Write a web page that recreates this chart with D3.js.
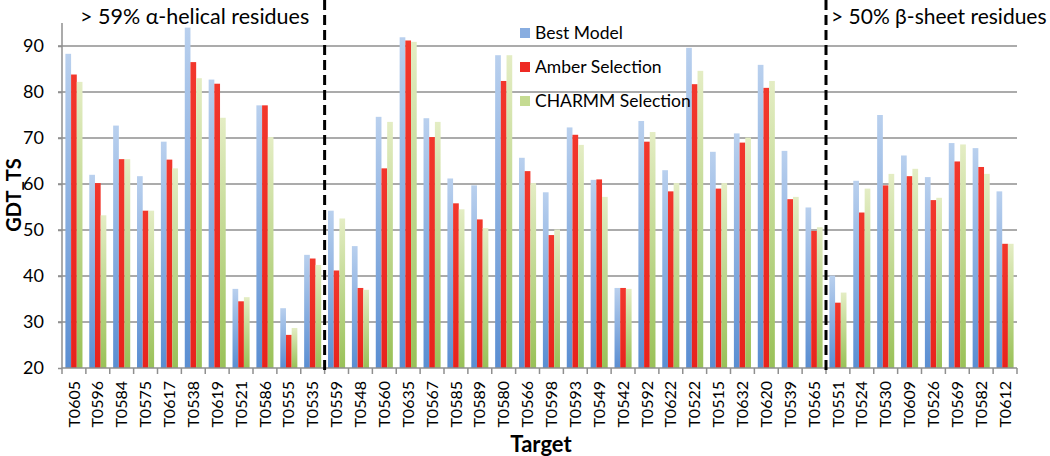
<!DOCTYPE html>
<html>
<head>
<meta charset="utf-8">
<script src="https://cdn.jsdelivr.net/npm/d3@7"></script>
<style>
  body { margin: 0; background: #fff; }
  text { font-family: Lato, "Open Sans", sans-serif; fill: #000; }
</style>
</head>
<body>
<div id="chart"></div>
<script>
var targets = ["T0605","T0596","T0584","T0575","T0617","T0538","T0619","T0521","T0586","T0555",
  "T0535","T0559","T0548","T0560","T0635","T0567","T0585","T0589","T0580","T0566",
  "T0598","T0593","T0549","T0542","T0592","T0622","T0522","T0515","T0632","T0620",
  "T0539","T0565","T0551","T0524","T0530","T0609","T0526","T0569","T0582","T0612"];

var bestModel = [88.3,62.0,72.7,61.7,69.2,94.0,82.7,37.2,77.1,33.0,
  44.6,54.2,46.5,74.6,91.9,74.3,61.2,59.7,88.0,65.7,
  58.2,72.3,60.9,37.4,73.7,63.0,89.6,67.0,71.0,85.9,
  67.2,54.9,40.1,60.7,75.0,66.2,61.5,68.9,67.8,58.4];

var amberSel = [83.8,60.2,65.4,54.2,65.3,86.5,81.8,34.5,77.1,27.2,
  43.8,41.2,37.4,63.4,91.2,70.2,55.8,52.3,82.4,62.8,
  48.9,70.7,61.0,37.4,69.2,58.4,81.7,59.0,69.0,80.9,
  56.7,49.8,34.2,53.8,59.7,61.7,56.5,64.9,63.7,47.0];

var charmmSel = [82.2,53.2,65.4,54.2,63.4,83.0,74.4,35.4,70.2,28.7,
  42.4,52.5,37.0,73.5,90.9,73.5,54.5,50.4,88.0,60.2,
  50.1,68.5,57.2,37.2,71.3,60.2,84.6,60.2,70.1,82.4,
  57.2,50.6,36.4,59.0,62.2,63.3,57.0,68.6,62.2,47.0];

var seriesNames = ["Best Model", "Amber Selection", "CHARMM Selection"];
var yTicks = [20, 30, 40, 50, 60, 70, 80, 90];
var dividers = ["T0559", "T0551"];   // first target of each new group

var W = 1050, H = 456;
var plotL = 62, plotR = 1017, plotB = 368, plotT = 23;

var svg = d3.select("#chart").append("svg")
    .attr("width", W)
    .attr("height", H);

var defs = svg.append("defs");
var grads = [
  ["gBlue", "#b9d0ee", "#5a8ed2"],
  ["gRed", "#f2372c", "#e8231d"],
  ["gGreen", "#e4edc4", "#99c157"]
];
grads.forEach(function(g) {
  var lg = defs.append("linearGradient").attr("id", g[0])
      .attr("x1", 0).attr("y1", 0).attr("x2", 0).attr("y2", 1);
  lg.append("stop").attr("offset", "0%").attr("stop-color", g[1]);
  lg.append("stop").attr("offset", "100%").attr("stop-color", g[2]);
});
var fills = ["url(#gBlue)", "url(#gRed)", "url(#gGreen)"];
var legendColors = ["#88ade0", "#ee2a24", "#c5db92"];

var x = d3.scaleBand()
    .domain(targets)
    .range([plotL, plotR])
    .padding(0);

var xs = d3.scaleBand()
    .domain(seriesNames)
    .range([3.4, x.bandwidth() - 3.4]);

var y = d3.scaleLinear()
    .domain([20, 95])
    .range([plotB, plotT]);

// gridlines
svg.append("g")
  .selectAll("line")
  .data(yTicks.filter(function(d) { return d > 20; }))
  .enter().append("line")
    .attr("x1", plotL - 4).attr("x2", plotR)
    .attr("y1", function(d) { return y(d); })
    .attr("y2", function(d) { return y(d); })
    .attr("stroke", "#8f8f8f")
    .attr("stroke-width", 1.5);

// bars
var rows = targets.map(function(t, i) {
  return {t: t, vals: [bestModel[i], amberSel[i], charmmSel[i]]};
});

var grp = svg.append("g").selectAll("g")
  .data(rows)
  .enter().append("g")
    .attr("transform", function(d) { return "translate(" + x(d.t) + ",0)"; });

grp.selectAll("rect")
  .data(function(d) { return d.vals.map(function(v, k) { return {k: k, v: v}; }); })
  .enter().append("rect")
    .attr("x", function(d) { return xs(seriesNames[d.k]); })
    .attr("width", xs.bandwidth())
    .attr("y", function(d) { return y(d.v); })
    .attr("height", function(d) { return y(20) - y(d.v); })
    .attr("fill", function(d) { return fills[d.k]; });

// axes
var yAxis = d3.axisLeft(y)
    .tickValues(yTicks)
    .tickSize(4)
    .tickPadding(14);

var gy = svg.append("g")
    .attr("transform", "translate(" + plotL + ",0)")
    .call(yAxis);
gy.select(".domain").attr("d", "M0," + plotT + "V" + plotB);
gy.selectAll("line, path").attr("stroke", "#8f8f8f").attr("stroke-width", 1.5);
gy.selectAll("text").style("font-size", "18px").attr("fill", "#000");

var xAxis = d3.axisBottom(x).tickSize(0);
var gx = svg.append("g")
    .attr("transform", "translate(0," + plotB + ")")
    .call(xAxis);
gx.select(".domain").attr("d", "M" + plotL + ",0H" + plotR).attr("stroke", "#8f8f8f").attr("stroke-width", 1.5);
gx.selectAll(".tick text")
    .attr("transform", "rotate(-90)")
    .attr("x", -13)
    .attr("y", 0)
    .attr("dy", "0.35em")
    .style("text-anchor", "end")
    .style("font-size", "16px");

// category separator ticks
svg.append("g").selectAll("line")
  .data(targets.concat(["end"]))
  .enter().append("line")
    .attr("x1", function(d, i) { return plotL + i * x.step(); })
    .attr("x2", function(d, i) { return plotL + i * x.step(); })
    .attr("y1", plotB)
    .attr("y2", plotB + 6)
    .attr("stroke", "#8f8f8f")
    .attr("stroke-width", 1.5);

// dashed separators
svg.append("g").selectAll("line")
  .data(dividers)
  .enter().append("line")
    .attr("x1", function(d) { return x(d); })
    .attr("x2", function(d) { return x(d); })
    .attr("y1", 0)
    .attr("y2", plotB + 3)
    .attr("stroke", "#000")
    .attr("stroke-width", 3)
    .attr("stroke-dasharray", "10,5");

// annotations
svg.append("text")
    .attr("x", 80).attr("y", 24)
    .style("font-size", "21.5px")
    .text("> 59% α-helical residues");
svg.append("text")
    .attr("x", 831).attr("y", 24)
    .style("font-size", "21px")
    .text("> 50% β-sheet residues");

// axis titles
svg.append("text")
    .attr("transform", "translate(21,195) rotate(-90)")
    .style("text-anchor", "middle")
    .style("font-size", "20px")
    .style("font-weight", "bold")
    .text("GDT_TS");
svg.append("text")
    .attr("x", 541).attr("y", 452)
    .style("text-anchor", "middle")
    .style("font-size", "22px")
    .style("font-weight", "bold")
    .text("Target");

// legend
var lg = svg.append("g").selectAll("g")
  .data(seriesNames)
  .enter().append("g")
    .attr("transform", function(d, i) { return "translate(520," + (33 + i * 34) + ")"; });
lg.append("rect")
    .attr("x", 0).attr("y", -5)
    .attr("width", 10).attr("height", 10)
    .attr("fill", function(d, i) { return legendColors[i]; });
lg.append("text")
    .attr("x", 15).attr("dy", "0.35em")
    .style("font-size", "17.5px")
    .text(function(d) { return d; });
</script>
</body>
</html>
